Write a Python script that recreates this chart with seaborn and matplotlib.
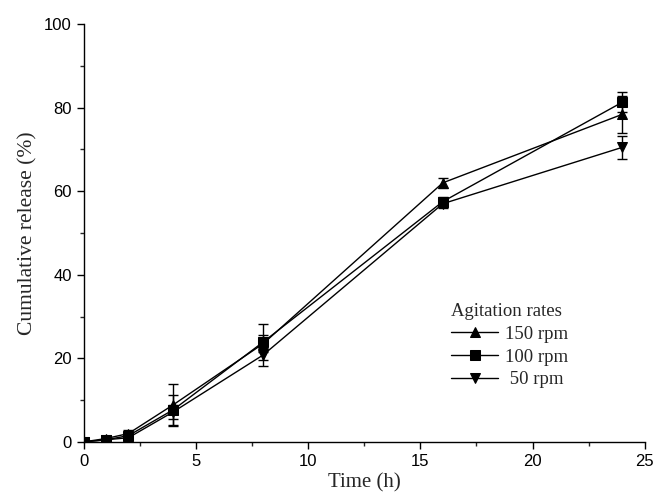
import numpy as np
import pandas as pd
import matplotlib
matplotlib.use("Agg")
import matplotlib.pyplot as plt
import seaborn as sns
from matplotlib.ticker import MultipleLocator

# sampling times (h)
time_h = [0, 1, 2, 4, 8, 16, 24]

# cumulative release (%) per agitation rate
rel_150 = [0.0, 0.8, 2.0, 8.9, 23.5, 62.0, 78.4]
rel_100 = [0.0, 0.5, 1.5, 7.7, 23.9, 57.5, 81.3]
rel_50 = [0.0, 0.5, 1.0, 7.2, 20.8, 57.0, 70.5]

# standard deviations
sd_150 = [0.0, 0.3, 0.8, 5.0, 2.0, 1.2, 4.4]
sd_100 = [0.0, 0.3, 0.6, 3.6, 4.3, 1.2, 2.4]
sd_50 = [0.0, 0.3, 0.6, 1.7, 2.6, 1.0, 2.7]

rates = ["150 rpm", "100 rpm", " 50 rpm"]
markers = {"150 rpm": "^", "100 rpm": "s", " 50 rpm": "v"}

df = pd.DataFrame({
    "time": time_h * 3,
    "release": rel_150 + rel_100 + rel_50,
    "sd": sd_150 + sd_100 + sd_50,
    "rate": [r for r in rates for _ in time_h],
})

sns.set_style("ticks")
plt.rcParams["font.family"] = ["Liberation Sans", "DejaVu Sans"]

fig = plt.figure(figsize=(6.58, 5.01), dpi=100)
ax = fig.add_axes([0.127, 0.118, 0.853, 0.834])

sns.lineplot(data=df, x="time", y="release", hue="rate", style="rate",
             markers=markers, dashes=False, hue_order=rates, style_order=rates,
             palette=["black"] * 3, linewidth=1.0, markersize=7.5,
             markeredgecolor="black", ax=ax, legend=True)

for r in rates:
    sub = df[df["rate"] == r]
    ax.errorbar(sub["time"], sub["release"], yerr=sub["sd"], fmt="none",
                ecolor="black", elinewidth=1.0, capsize=3.5, capthick=1.0)

ax.set_xlim(0, 25)
ax.set_ylim(0, 100)
ax.xaxis.set_major_locator(MultipleLocator(5))
ax.xaxis.set_minor_locator(MultipleLocator(2.5))
ax.yaxis.set_major_locator(MultipleLocator(20))
ax.yaxis.set_minor_locator(MultipleLocator(10))
ax.tick_params(which="major", direction="out", length=5, width=1.0,
               labelsize=12, colors="black")
ax.tick_params(which="minor", direction="out", length=3, width=1.0)
for s in ["left", "bottom"]:
    ax.spines[s].set_linewidth(1.0)
    ax.spines[s].set_color("black")
sns.despine(ax=ax)

serif = ["Liberation Serif", "DejaVu Serif"]
ax.set_xlabel("Time (h)", fontsize=15, family=serif, labelpad=3)
ax.set_ylabel("Cumulative release (%)", fontsize=15.5, family=serif, labelpad=5)

handles, labels = ax.get_legend_handles_labels()
leg = ax.legend(handles, labels, title="Agitation rates", loc="upper left",
                bbox_to_anchor=(0.642, 0.35), frameon=False, handlelength=2.5,
                handletextpad=0.35, labelspacing=0.3, borderaxespad=0,
                alignment="left", prop={"family": serif, "size": 13.5},
                title_fontproperties={"family": serif, "size": 13.5})

fig.savefig("out.png", dpi=100)
